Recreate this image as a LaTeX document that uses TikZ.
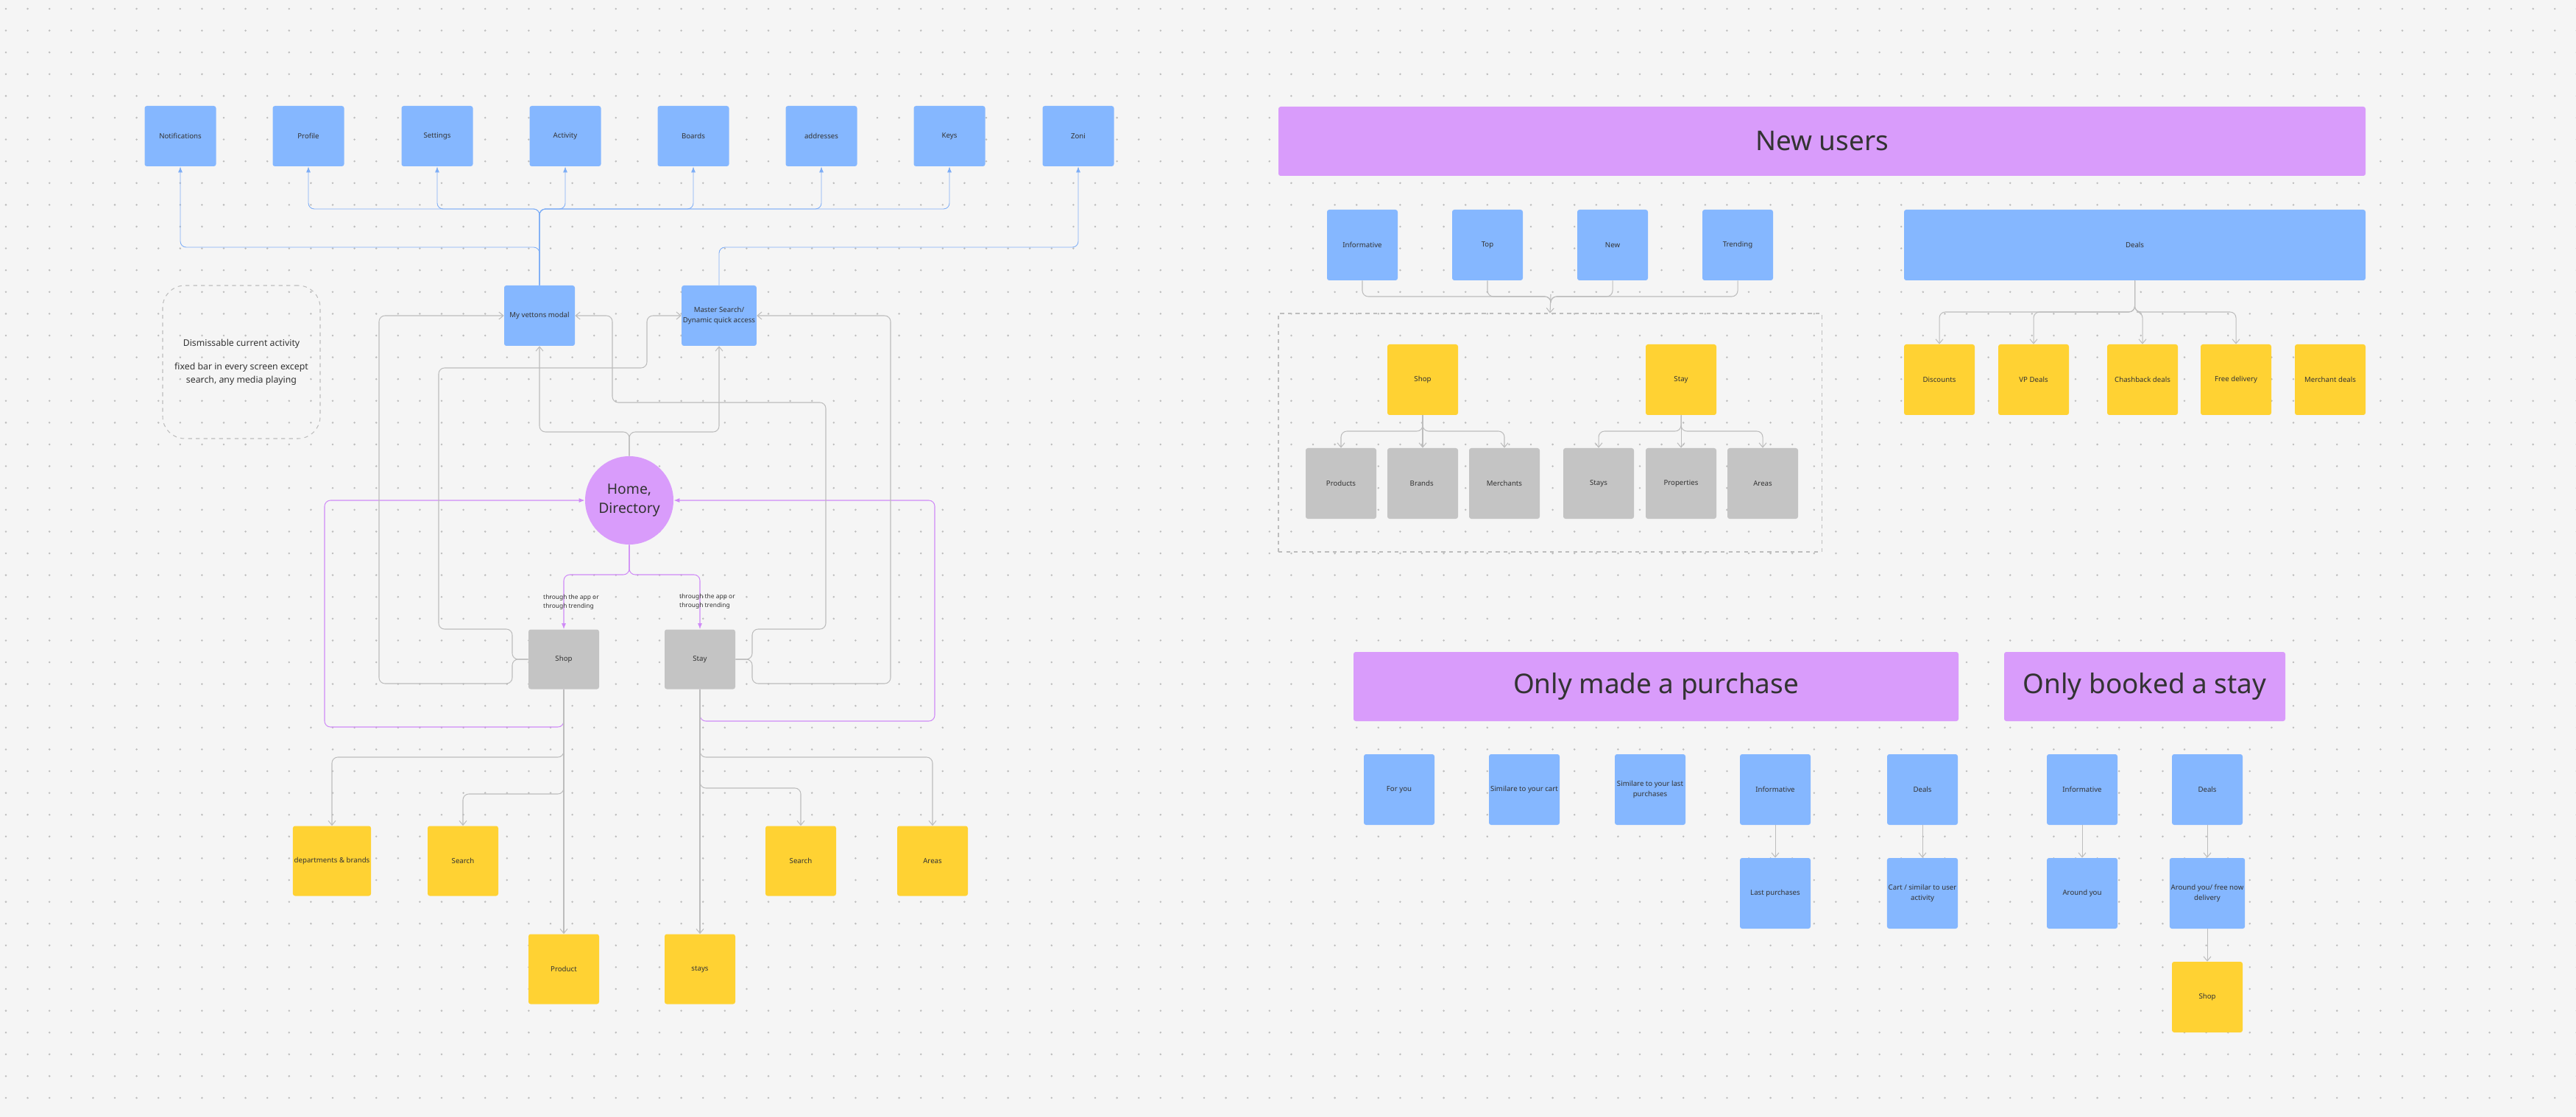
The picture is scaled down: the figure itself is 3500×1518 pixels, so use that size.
\documentclass[tikz,border=0pt]{standalone}
\usepackage{fontspec}
\setmainfont{Noto Sans}
\usetikzlibrary{arrows.meta}
\definecolor{bg}{HTML}{F5F5F5}
\definecolor{dotc}{HTML}{BDBDBD}
\definecolor{bblue}{HTML}{85B7FF}
\definecolor{byel}{HTML}{FFD233}
\definecolor{bgray}{HTML}{C4C4C4}
\definecolor{bpur}{HTML}{D99CFB}
\definecolor{lblue}{HTML}{7EAEF6}
\definecolor{lpur}{HTML}{D08BF7}
\definecolor{lgray}{HTML}{BDBDBD}
\definecolor{txt}{HTML}{333333}
\tikzset{x=0.2mm,y=-0.2mm,
  card/.style={draw=none,rounded corners=0.6mm,inner sep=1pt,align=center,text=txt,font=\fontsize{5.5}{8}\selectfont},
  bluec/.style={card,fill=bblue},
  yelc/.style={card,fill=byel},
  grayc/.style={card,fill=bgray},
  banner/.style={card,fill=bpur,font=\fontsize{21}{26}\selectfont},
  sz/.style 2 args={minimum width=#1*0.2mm,minimum height=#2*0.2mm},
  bl/.style={draw=lblue,line width=0.5pt,rounded corners=1.6mm,-{Latex[length=1.6mm,width=1.2mm]}},
  pl/.style={draw=lpur,line width=0.6pt,rounded corners=1.6mm,-{Latex[length=1.6mm,width=1.2mm]}},
  gl/.style={draw=lgray,line width=0.6pt,rounded corners=1.6mm,-{Straight Barb[length=1.2mm,width=2mm]}},
  glp/.style={draw=lgray,line width=0.6pt,rounded corners=1.6mm},
}
\begin{document}
\begin{tikzpicture}
\useasboundingbox (0,0) rectangle (3500,1518);
\fill[bg] (0,0) rectangle (3500,1518);
\foreach \i in {0,...,118}{\foreach \j in {0,...,51}{\fill[dotc] (\i*29.6+8,\j*29.6+12) circle (1.4);}}
% top row
\foreach \n/\x/\t in {notif/245/Notifications,prof/419/Profile,sett/594/Settings,act/768/Activity,boards/942/Boards,addr/1116/addresses,keys/1290/Keys,zoni/1465/Zoni}{
  \node[bluec,sz={97}{82}] (\n) at (\x,185) {\t};}
\node[bluec,sz={96}{82}] (vet) at (733,429) {My vettons modal};
\node[bluec,sz={96}{82}] (ms) at (977,429) {Master Search/\\Dynamic quick access};
\node[draw=lgray,dashed,line width=0.6pt,rounded corners=6mm,minimum width=214*0.2mm,minimum height=208*0.2mm,align=center,text=txt,font=\fontsize{7}{10}\selectfont] (dis) at (328,492) {Dismissable current activity\\[1.2em]fixed bar in every screen except\\search, any media playing};
\foreach \n in {prof,sett,act,boards,addr,keys}{\draw[bl] (vet.north) |- (\n.south |- 0,284) -- (\n.south);}
\draw[bl] (vet.north) |- (245,336) -- (notif.south);
\draw[bl] (ms.north) |- (1465,336) -- (zoni.south);
% home
\node[circle,fill=bpur,minimum size=120*0.2mm,inner sep=0,align=center,text=txt,font=\fontsize{11}{15}\selectfont] (home) at (855,680) {Home,\\Directory};
\node[grayc,sz={96}{81}] (shop) at (766,896) {Shop};
\node[grayc,sz={96}{81}] (stay) at (951,896) {Stay};
\draw[gl] (home.north) |- (733,587) -- (vet.south);
\draw[gl] (home.north) |- (977,587) -- (ms.south);
\draw[pl] (home.south) |- (766,781) -- (shop.north);
\draw[pl] (home.south) |- (951,781) -- (stay.north);
\node[align=left,anchor=west,text=txt,font=\fontsize{4.8}{7}\selectfont] (l1) at (732,818) {through the app or\\through trending};
\node[align=left,anchor=west,text=txt,font=\fontsize{4.8}{7}\selectfont] (l2) at (917,817) {through the app or\\through trending};
\draw[pl] (shop.south) |- (441,988) |- (home.west);
\draw[pl] (stay.south) |- (1270,980) |- (home.east);
\draw[gl] (shop.west) -- (696,896) |- (515,929) |- (vet.west);
\draw[gl] (shop.west) -- (696,896) |- (596,855) |- (879,500) |- (ms.west);
\draw[gl] (stay.east) -- (1022,896) |- (1122,855) |- (832,547) |- (vet.east);
\draw[gl] (stay.east) -- (1022,896) |- (1210,929) |- (ms.east);
% bottom left
\node[yelc,sz={96}{95}] (dept) at (451,1170) {departments \& brands};
\node[yelc,sz={96}{95}] (srch1) at (629,1170) {Search};
\node[yelc,sz={96}{95}] (srch2) at (1088,1170) {Search};
\node[yelc,sz={96}{95}] (areas1) at (1267,1170) {Areas};
\node[yelc,sz={96}{95}] (prod) at (766,1317) {Product};
\node[yelc,sz={96}{95}] (stays1) at (951,1317) {stays};
\draw[gl] (shop.south) -- (prod.north);
\draw[gl] (stay.south) -- (stays1.north);
\draw[gl] (shop.south) |- (451,1029) -- (dept.north);
\draw[gl] (shop.south) |- (629,1079) -- (srch1.north);
\draw[gl] (stay.south) |- (1088,1071) -- (srch2.north);
\draw[gl] (stay.south) |- (1267,1029) -- (areas1.north);
% new users
\node[banner,sz={1477}{94}] (nu) at (2475.5,192) {New users};
\foreach \n/\x/\t in {inf/1851/Informative,top/2021/Top,new/2191/New,trend/2361/Trending}{
  \node[bluec,sz={96}{96}] (\n) at (\x,333) {\t};}
\node[bluec,sz={627}{96}] (deals) at (2900.5,333) {Deals};
\node[draw=lgray,dashed,line width=0.6pt,minimum width=738*0.2mm,minimum height=324*0.2mm] (cont) at (2106,588) {};
\foreach \n in {inf,top,new,trend}{\draw[glp] (\n.south) |- (2107,403) -- (2107,410);}
\draw[gl] (2107,400) -- (cont.north);
\node[yelc,sz={96}{96}] (rshop) at (1933,516) {Shop};
\node[yelc,sz={96}{96}] (rstay) at (2284,516) {Stay};
\foreach \n/\x/\t in {prods/1822/Products,brands/1933/Brands / Categories,merch/2044/Merchants}{
  \node[grayc,sz={96}{96}] (\n) at (\x,657) {\t};
  \draw[gl] (rshop.south) |- (\n.north |- 0,586) -- (\n.north);}
\foreach \n/\x/\t in {stays2/2172/Stays,props/2284/Properties,areas2/2395/Areas}{
  \node[grayc,sz={96}{96}] (\n) at (\x,657) {\t};
  \draw[gl] (rstay.south) |- (\n.north |- 0,586) -- (\n.north);}
\foreach \n/\x/\t in {disc/2635/Discounts,vp/2763/VP Deals,cash/2911/Chashback deals,free/3038/Free delivery,mdeal/3166/Merchant deals}{
  \node[yelc,sz={96}{96}] (\n) at (\x,516) {\t};}
\foreach \n in {disc,vp,cash,free}{\draw[gl] (deals.south) |- (\n.north |- 0,424) -- (\n.north);}
% bottom right
\node[banner,sz={822}{94}] (omp) at (2250,933) {Only made a purchase};
\node[banner,sz={382}{94}] (obs) at (2914,933) {Only booked a stay};
\node[bluec,sz={96}{96}] (foryou) at (1901,1073) {For you};
\node[bluec,sz={96}{96}] (simcart) at (2071,1073) {Similare to your cart};
\node[bluec,sz={96}{96}] (simlast) at (2242,1073) {Similare to your last\\purchases};
\node[bluec,sz={96}{96}] (inf2) at (2412,1073) {Informative};
\node[bluec,sz={96}{96}] (deals2) at (2612,1073) {Deals};
\node[bluec,sz={96}{96}] (inf3) at (2829,1073) {Informative};
\node[bluec,sz={96}{96}] (deals3) at (2999,1073) {Deals};
\node[bluec,sz={96}{96}] (lastp) at (2412,1214) {Last purchases};
\node[bluec,sz={96}{96}] (cart) at (2612,1214) {Cart / similar to user\\activity};
\node[bluec,sz={96}{96}] (around) at (2829,1214) {Around you};
\node[bluec,sz={96}{96}] (aroundf) at (2999,1214) {Around you/ free now\\delivery};
\node[yelc,sz={96}{96}] (shop3) at (2999,1355) {Shop};
\draw[gl] (inf2) -- (lastp);
\draw[gl] (deals2) -- (cart);
\draw[gl] (inf3) -- (around);
\draw[gl] (deals3) -- (aroundf);
\draw[gl] (aroundf) -- (shop3);
\end{tikzpicture}
\end{document}
